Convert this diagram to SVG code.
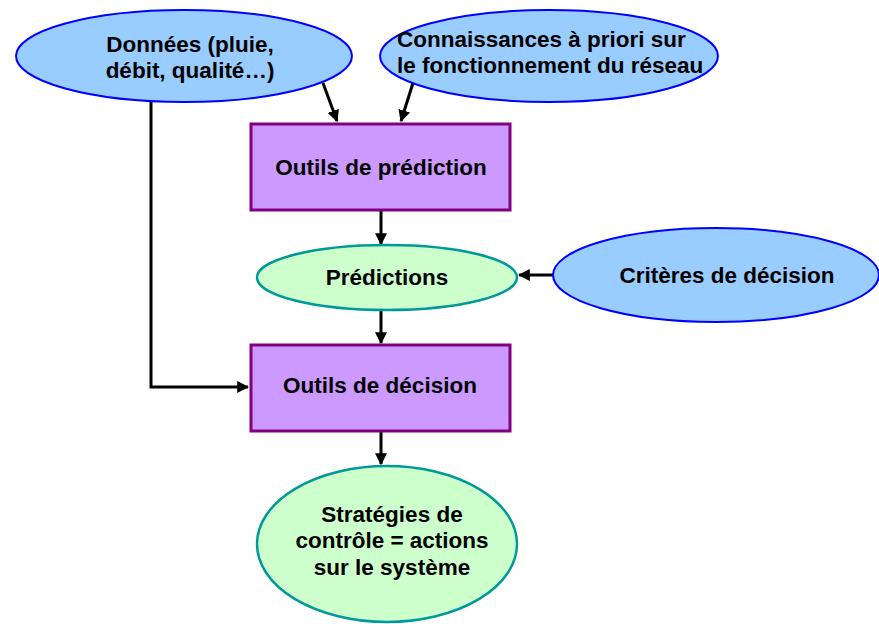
<svg xmlns="http://www.w3.org/2000/svg" width="879" height="624" viewBox="0 0 879 624">
<defs>
<marker id="ah" viewBox="0 0 10 10" refX="9" refY="5" markerWidth="4" markerHeight="4" orient="auto" markerUnits="strokeWidth">
<path d="M0,0 L10,5 L0,10 z" fill="#000"/>
</marker>
<style>
.blue{fill:#99CCFF;stroke:#0000FF;stroke-width:2}
.green{fill:#CCFFCC;stroke:#009999;stroke-width:2.5}
.box{fill:#CC99FF;stroke:#800080;stroke-width:3}
.t{font-family:"Liberation Sans",Arial,sans-serif;font-weight:bold;font-size:22.5px;fill:#000}
.c{stroke:#000;stroke-width:3;fill:none}
</style>
</defs>
<rect width="879" height="624" fill="#fff"/>
<g id="connectors">
<polyline class="c" points="151,102 151,387 248,387" marker-end="url(#ah)"/>
<line class="c" x1="323" y1="83" x2="337" y2="121" marker-end="url(#ah)"/>
<line class="c" x1="413" y1="83" x2="401" y2="121" marker-end="url(#ah)"/>
<line class="c" x1="381" y1="211" x2="381" y2="244" marker-end="url(#ah)"/>
<line class="c" x1="553" y1="275" x2="519" y2="275" marker-end="url(#ah)"/>
<line class="c" x1="381" y1="310" x2="381" y2="343" marker-end="url(#ah)"/>
<line class="c" x1="381" y1="432" x2="381" y2="464" marker-end="url(#ah)"/>
</g>
<g id="donnees">
<ellipse class="blue" cx="184" cy="56" rx="168" ry="46"/>
<text class="t" x="190" y="52" text-anchor="middle">Données (pluie,</text>
<text class="t" x="190" y="78" text-anchor="middle">débit, qualité…)</text>
</g>
<g id="connaissances">
<ellipse class="blue" cx="549" cy="56" rx="169" ry="46"/>
<text class="t" x="397" y="47">Connaissances à priori sur</text>
<text class="t" x="397" y="73">le fonctionnement du réseau</text>
</g>
<g id="outils-prediction">
<rect class="box" x="251" y="124" width="259" height="86"/>
<text class="t" x="381" y="175" text-anchor="middle">Outils de prédiction</text>
</g>
<g id="predictions">
<ellipse class="green" cx="387" cy="277.5" rx="130" ry="32.5"/>
<text class="t" x="387" y="285" text-anchor="middle">Prédictions</text>
</g>
<g id="criteres">
<ellipse class="blue" cx="716" cy="275" rx="163" ry="47"/>
<text class="t" x="727" y="283" text-anchor="middle">Critères de décision</text>
</g>
<g id="outils-decision">
<rect class="box" x="251" y="345" width="259" height="86"/>
<text class="t" x="380" y="393" text-anchor="middle">Outils de décision</text>
</g>
<g id="strategies">
<ellipse class="green" cx="387" cy="544" rx="130" ry="78"/>
<text class="t" x="392" y="522" text-anchor="middle">Stratégies de</text>
<text class="t" x="392" y="548" text-anchor="middle">contrôle = actions</text>
<text class="t" x="392" y="575" text-anchor="middle">sur le système</text>
</g>
</svg>
